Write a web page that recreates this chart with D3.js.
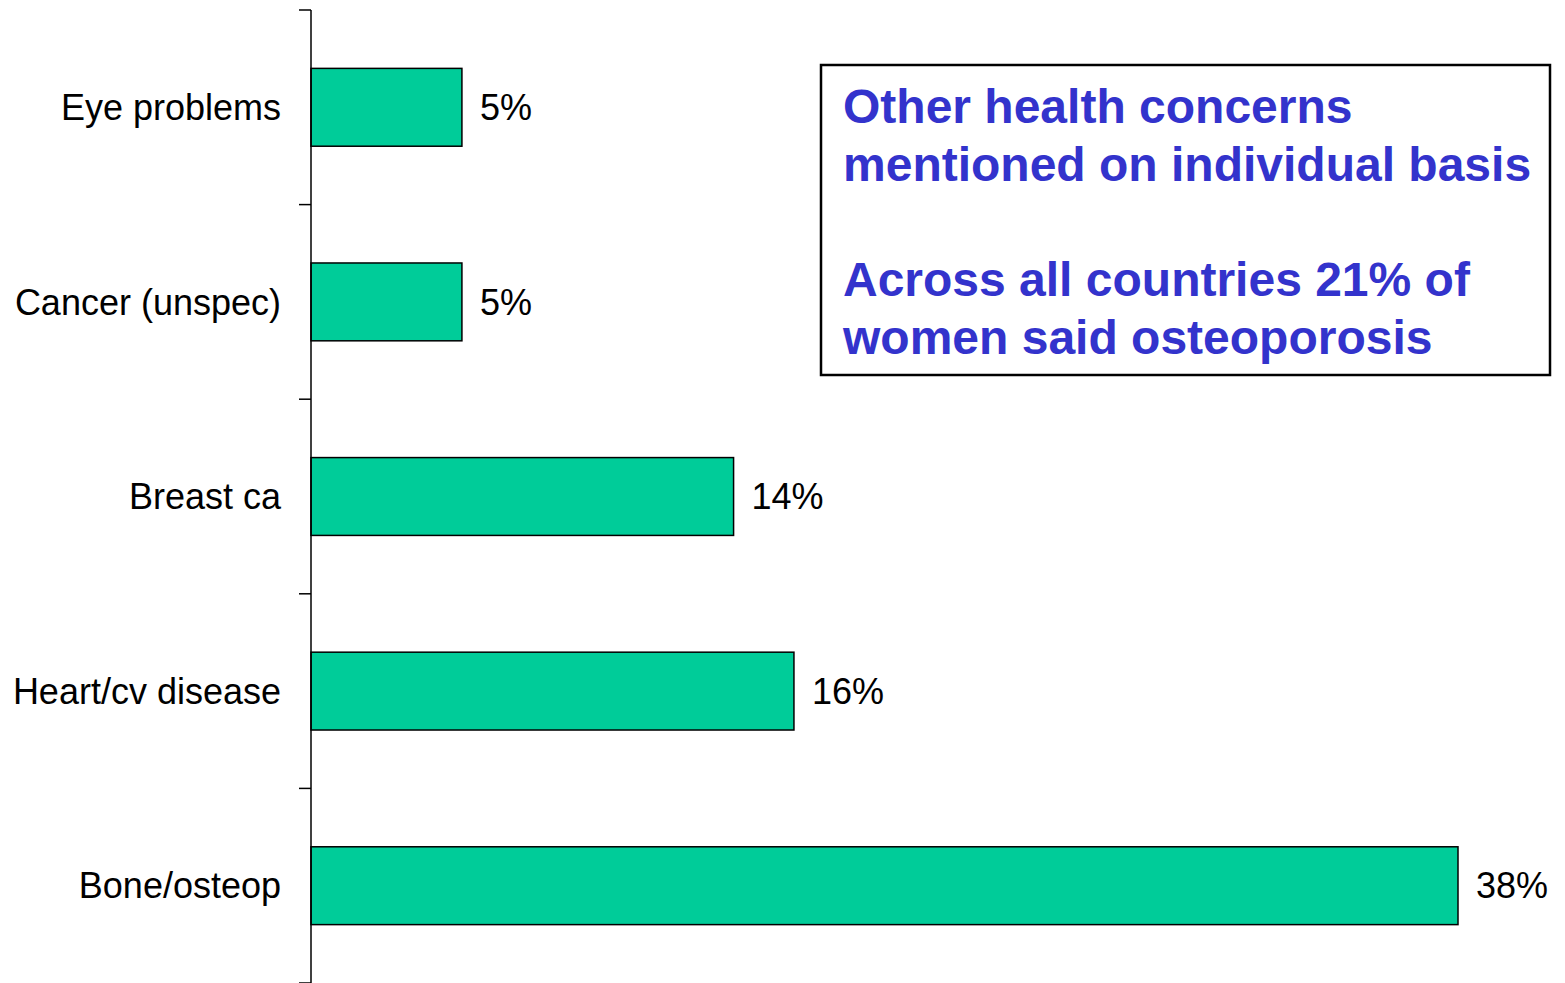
<!DOCTYPE html>
<html>
<head>
<meta charset="utf-8">
<script src="https://cdn.jsdelivr.net/npm/d3@7"></script>
<style>
  body { margin: 0; background: #fff; }
  svg { display: block; }
</style>
</head>
<body>
<script>
// chart data
const categories = ["Eye problems", "Cancer (unspec)", "Breast ca", "Heart/cv disease", "Bone/osteop"];
const values = [5, 5, 14, 16, 38];
const noteLines = [
  "Other health concerns",
  "mentioned on individual basis",
  "",
  "Across all countries 21% of",
  "women said osteoporosis"
];

const width = 1565;
const height = 983;
const marginTop = 10;
const marginBottom = 0;
const marginLeft = 311;

const data = categories.map((c, i) => ({ name: c, value: values[i] }));

const svg = d3.select("body").append("svg")
    .attr("width", width)
    .attr("height", height)
    .attr("viewBox", [0, 0, width, height]);

const x = d3.scaleLinear()
    .domain([0, 38])
    .range([marginLeft, 1458]);

const y = d3.scaleBand()
    .domain(categories)
    .range([marginTop, height - marginBottom])
    .paddingInner(0.6)
    .paddingOuter(0.3);

// bars
svg.append("g")
    .selectAll("rect")
    .data(data)
    .join("rect")
    .attr("x", x(0))
    .attr("y", d => y(d.name))
    .attr("width", d => x(d.value) - x(0))
    .attr("height", y.bandwidth())
    .attr("fill", "#00CC99")
    .attr("stroke", "#000")
    .attr("stroke-width", 1.5);

// value labels
svg.append("g")
    .selectAll("text")
    .data(data)
    .join("text")
    .attr("x", d => x(d.value) + 18)
    .attr("y", d => y(d.name) + y.bandwidth() / 2)
    .attr("dy", "0.35em")
    .attr("font-family", "Liberation Sans, Arial, sans-serif")
    .attr("font-size", 36)
    .attr("fill", "#000")
    .text(d => d.value + "%");

// y axis with ticks between categories
const step = y.step();
const tickYs = d3.range(categories.length + 1).map(i => marginTop + i * step);
const axis = svg.append("g");
axis.append("line")
    .attr("x1", marginLeft).attr("x2", marginLeft)
    .attr("y1", marginTop).attr("y2", height)
    .attr("stroke", "#000").attr("stroke-width", 1.5);
axis.selectAll("line.tick")
    .data(tickYs)
    .join("line")
    .attr("class", "tick")
    .attr("x1", marginLeft - 12).attr("x2", marginLeft)
    .attr("y1", d => d).attr("y2", d => d)
    .attr("stroke", "#000").attr("stroke-width", 1.5);
axis.selectAll("text")
    .data(categories)
    .join("text")
    .attr("x", 281)
    .attr("y", d => y(d) + y.bandwidth() / 2)
    .attr("dy", "0.35em")
    .attr("text-anchor", "end")
    .attr("font-family", "Liberation Sans, Arial, sans-serif")
    .attr("font-size", 36)
    .text(d => d);

// note box
svg.append("rect")
    .attr("x", 821).attr("y", 65)
    .attr("width", 729).attr("height", 310)
    .attr("fill", "#fff")
    .attr("stroke", "#000")
    .attr("stroke-width", 2.5);

svg.append("g")
    .selectAll("text")
    .data(noteLines)
    .join("text")
    .attr("x", 843)
    .attr("y", (d, i) => 106 + i * 57.8)
    .attr("dy", "0.35em")
    .attr("font-family", "Liberation Sans, Arial, sans-serif")
    .attr("font-weight", "bold")
    .attr("font-size", 48)
    .attr("fill", "#3333CC")
    .text(d => d);
</script>
</body>
</html>
